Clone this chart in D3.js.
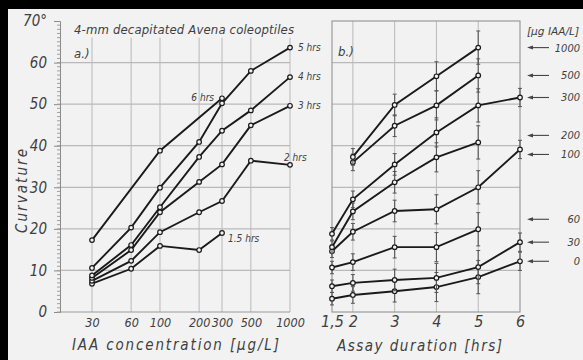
<!DOCTYPE html>
<html>
<head>
<meta charset="utf-8">
<script src="https://cdn.jsdelivr.net/npm/d3@7"></script>
<style>
  body { margin: 0; background: #f2f2f2; }
  svg { display: block; }
  svg text { font-family: 'DejaVu Sans Condensed', 'DejaVu Sans', sans-serif; font-style: italic; fill: #3f3f3f; }
</style>
</head>
<body>
<div id="chart"></div>
<script>
// panel a) : curvature vs IAA concentration, one curve per assay duration
const concTicks = [30, 60, 100, 200, 300, 500, 1000];
const hourNames = ['1.5 hrs', '2 hrs', '3 hrs', '4 hrs', '5 hrs', '6 hrs'];
const curve1h5 = [6.8, 10.4, 15.9, 14.9, 19.0, null, null];
const curve2h  = [7.5, 12.3, 19.2, 24.0, 26.7, 36.4, 35.4];
const curve3h  = [8.2, 14.9, 24.0, 31.3, 35.5, 44.9, 49.6];
const curve4h  = [8.8, 16.1, 25.2, 37.3, 43.6, 48.5, 56.5];
const curve5h  = [10.6, 20.3, 29.9, 40.9, 50.2, 58.0, 63.6];
const curve6h  = [17.3, null, 38.8, null, 51.4, null, null];

// panel b) : curvature vs assay duration, one curve per IAA dose (µg/L)
const hourTicks = [1.5, 2, 3, 4, 5, 6];
const doseNames = ['0', '30', '60', '100', '200', '300', '500', '1000'];
const dose0    = [3.2, 4.1, 5.0, 6.0, 8.4, 12.2];
const dose30   = [6.2, 7.0, 7.7, 8.2, 10.8, 16.8];
const dose60   = [10.7, 12.0, 15.6, 15.6, 19.9, null];
const dose100  = [14.6, 19.3, 24.3, 24.7, 30.0, 39.1];
const dose200  = [15.6, 24.2, 31.2, 37.2, 40.8, null];
const dose300  = [18.8, 27.1, 35.5, 43.2, 49.7, 51.6];
const dose500  = [null, 36.0, 44.8, 49.7, 56.9, null];
const dose1000 = [null, 37.3, 49.8, 56.7, 63.6, null];
const errHalf  = [1.5, 2.0, 2.6, 3.5, 4.0, 2.2];

const yTicks = [0, 10, 20, 30, 40, 50, 60, 70];

const W = 583, H = 360;
const ink = '#1a1a1a', grid = '#b9b9b9', paper = '#f2f2f2';

const svg = d3.select('#chart').append('svg')
  .attr('width', W).attr('height', H);

svg.append('rect').attr('width', W).attr('height', H).attr('fill', paper);

const y = d3.scaleLinear().domain([0, 70]).range([312, 21]);
const xa = d3.scaleLog().domain([30, 1000]).range([92, 290]);
const xb = d3.scaleLinear().domain([1.5, 6]).range([332, 520]);

// ---------- panel a ----------
const ga = svg.append('g');

ga.selectAll('line.hg')
  .data(yTicks.filter(t => t > 0 && t < 70))
  .enter().append('line')
  .attr('x1', 60).attr('x2', xa(1000))
  .attr('y1', d => y(d)).attr('y2', d => y(d))
  .attr('stroke', grid).attr('stroke-width', 1.2);

ga.selectAll('line.vg')
  .data(concTicks)
  .enter().append('line')
  .attr('x1', d => xa(d)).attr('x2', d => xa(d))
  .attr('y1', y(0)).attr('y2', y(66))
  .attr('stroke', grid).attr('stroke-width', 1);

ga.append('line')
  .attr('x1', 60).attr('x2', xa(1000))
  .attr('y1', y(0)).attr('y2', y(0))
  .attr('stroke', '#9a9a9a').attr('stroke-width', 1.2);

// ruler-like y axis
const yAxis = d3.axisLeft(y).tickValues(yTicks).tickSize(6)
  .tickFormat(d => d === 70 ? '70°' : d);
const ay = ga.append('g').attr('transform', 'translate(60,0)').call(yAxis);
ay.select('.domain').attr('stroke', '#8a8a8a');
ay.selectAll('line').attr('stroke', '#8a8a8a');
ay.selectAll('text').attr('x', -13).attr('font-size', 15).style('fill', '#3f3f3f');
ay.append('g').selectAll('line')
  .data(d3.range(0, 70, 1))
  .enter().append('line')
  .attr('x1', -3).attr('x2', 0)
  .attr('y1', d => y(d)).attr('y2', d => y(d))
  .attr('stroke', '#a0a0a0');

const xAxisA = d3.axisBottom(xa).tickValues(concTicks).tickSize(0).tickFormat(d3.format('d'));
const axa = ga.append('g').attr('transform', `translate(0,${y(0)})`).call(xAxisA);
axa.select('.domain').remove();
axa.selectAll('text').attr('dy', 12).attr('font-size', 12.5).style('fill', '#3f3f3f');

const curvesA = [curve1h5, curve2h, curve3h, curve4h, curve5h, curve6h];
const lineA = d3.line()
  .x(d => xa(d.c)).y(d => y(d.v));

curvesA.forEach(vals => {
  const pts = concTicks.map((c, i) => ({ c, v: vals[i] })).filter(d => d.v != null);
  ga.append('path').datum(pts)
    .attr('d', lineA)
    .attr('fill', 'none').attr('stroke', ink).attr('stroke-width', 1.9);
  ga.selectAll(null).data(pts).enter().append('circle')
    .attr('cx', d => xa(d.c)).attr('cy', d => y(d.v)).attr('r', 2.3)
    .attr('fill', paper).attr('stroke', ink).attr('stroke-width', 1.2);
});

// curve names
const lastPt = vals => {
  let i = vals.length - 1;
  while (vals[i] == null) i--;
  return { c: concTicks[i], v: vals[i] };
};
const nameOffsetA = [[6, 9], [-6, -4], [8, 3], [8, 3], [8, 3], [-8, 3]];
curvesA.forEach((vals, k) => {
  const p = lastPt(vals);
  const [dx, dy] = nameOffsetA[k];
  ga.append('text')
    .attr('x', xa(p.c) + dx).attr('y', y(p.v) + dy)
    .attr('text-anchor', k === 5 ? 'end' : 'start')
    .attr('font-size', 10)
    .text(hourNames[k]);
});

ga.append('text').attr('x', 74).attr('y', 34).attr('font-size', 13)
  .attr('textLength', 220).attr('lengthAdjust', 'spacing')
  .text('4-mm  decapitated  Avena coleoptiles');
ga.append('text').attr('x', 74).attr('y', 58).attr('font-size', 13).text('a.)');

ga.append('text')
  .attr('transform', 'translate(27,191) rotate(-90)')
  .attr('text-anchor', 'middle').attr('font-size', 15)
  .attr('textLength', 84).attr('lengthAdjust', 'spacing')
  .text('Curvature');

ga.append('text').attr('x', 72).attr('y', 350).attr('font-size', 15)
  .attr('textLength', 207).attr('lengthAdjust', 'spacing')
  .text('IAA  concentration  [µg/L]');

// ---------- panel b ----------
const gb = svg.append('g');

gb.selectAll('line.hg')
  .data(yTicks.filter(t => t > 0 && t < 70))
  .enter().append('line')
  .attr('x1', xb(1.5)).attr('x2', xb(6))
  .attr('y1', d => y(d)).attr('y2', d => y(d))
  .attr('stroke', grid).attr('stroke-width', 1.2);

gb.selectAll('line.vg')
  .data(hourTicks.slice(1, -1))
  .enter().append('line')
  .attr('x1', d => xb(d)).attr('x2', d => xb(d))
  .attr('y1', y(0)).attr('y2', y(70))
  .attr('stroke', grid).attr('stroke-width', 1);

gb.append('rect')
  .attr('x', xb(1.5)).attr('y', y(70))
  .attr('width', xb(6) - xb(1.5)).attr('height', y(0) - y(70))
  .attr('fill', 'none').attr('stroke', '#9a9a9a').attr('stroke-width', 1.2);

const xAxisB = d3.axisBottom(xb).tickValues(hourTicks).tickSize(0)
  .tickFormat(d => String(d).replace('.', ','));
const axb = gb.append('g').attr('transform', `translate(0,${y(0)})`).call(xAxisB);
axb.select('.domain').remove();
axb.selectAll('text').attr('dy', 12).attr('font-size', 16).style('fill', '#3f3f3f');

const curvesB = [dose0, dose30, dose60, dose100, dose200, dose300, dose500, dose1000];
const lineB = d3.line()
  .x(d => xb(d.h)).y(d => y(d.v));

curvesB.forEach(vals => {
  const pts = hourTicks.map((h, i) => ({ h, v: vals[i], e: errHalf[i] })).filter(d => d.v != null);
  gb.selectAll(null).data(pts).enter().append('g')
    .each(function (d) {
      const g = d3.select(this);
      g.append('line')
        .attr('x1', xb(d.h)).attr('x2', xb(d.h))
        .attr('y1', y(d.v - d.e)).attr('y2', y(d.v + d.e))
        .attr('stroke', '#555').attr('stroke-width', 1.1);
      [d.v - d.e, d.v + d.e].forEach(t => g.append('line')
        .attr('x1', xb(d.h) - 2).attr('x2', xb(d.h) + 2)
        .attr('y1', y(t)).attr('y2', y(t))
        .attr('stroke', '#555').attr('stroke-width', 1));
    });
  gb.append('path').datum(pts)
    .attr('d', lineB)
    .attr('fill', 'none').attr('stroke', ink).attr('stroke-width', 1.9);
  gb.selectAll(null).data(pts).enter().append('circle')
    .attr('cx', d => xb(d.h)).attr('cy', d => y(d.v)).attr('r', 2.3)
    .attr('fill', paper).attr('stroke', ink).attr('stroke-width', 1.2);
});

// dose legend with arrows at the right
const legendShift = { '200': -7, '100': 5, '60': -10 };
curvesB.forEach((vals, k) => {
  let i = vals.length - 1;
  while (vals[i] == null) i--;
  const ly = y(vals[i]) + (legendShift[doseNames[k]] || 0);
  gb.append('line').attr('x1', 531).attr('x2', 549).attr('y1', ly).attr('y2', ly)
    .attr('stroke', '#444').attr('stroke-width', 1.1);
  gb.append('path')
    .attr('d', `M527,${ly} l6,-2 l0,4 z`).attr('fill', '#444');
  gb.append('text').attr('x', 580).attr('y', ly + 4)
    .attr('text-anchor', 'end').attr('font-size', 11)
    .text(doseNames[k]);
});
gb.append('text').attr('x', 527).attr('y', 35).attr('font-size', 10)
  .attr('textLength', 52).attr('lengthAdjust', 'spacingAndGlyphs')
  .text('[µg IAA/L]');

gb.append('text').attr('x', 338).attr('y', 56).attr('font-size', 13).text('b.)');

gb.append('text').attr('x', 337).attr('y', 351).attr('font-size', 15)
  .attr('textLength', 165).attr('lengthAdjust', 'spacing')
  .text('Assay  duration  [hrs]');

// scan border
svg.append('rect').attr('x', 0).attr('y', 0).attr('width', W).attr('height', 9).attr('fill', '#000');
svg.append('rect').attr('x', 0).attr('y', 0).attr('width', 8).attr('height', H).attr('fill', '#000');
</script>
</body>
</html>
